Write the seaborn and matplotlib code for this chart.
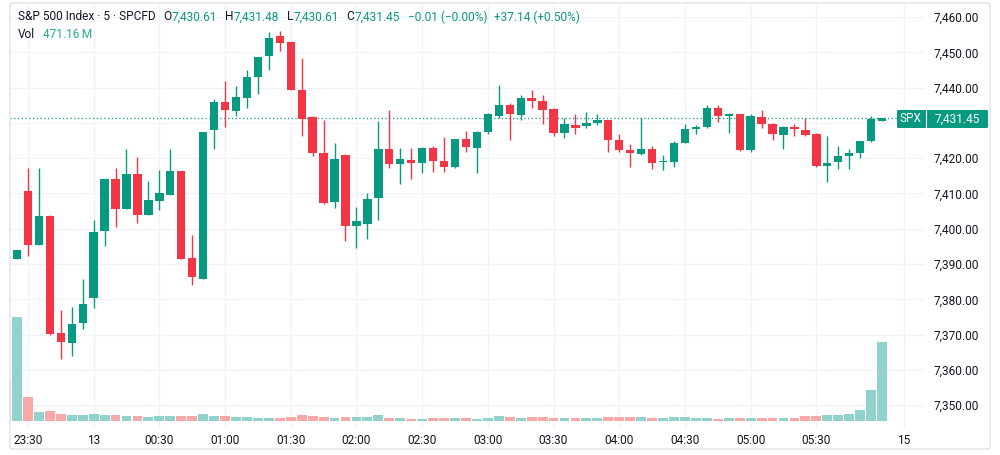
import numpy as np
import pandas as pd
import matplotlib
matplotlib.use("Agg")
import matplotlib.pyplot as plt
from matplotlib.patches import FancyBboxPatch
import seaborn as sns

# ---------------------------------------------------------------------------
# S&P 500 CFD, 5 minute candles starting 23:20 (first one is cut by the left edge)
opens = [7393.0, 7391.5, 7410.6, 7395.5, 7403.6, 7370.4, 7367.6, 7373.3, 7380.5, 7399.5,
         7414.1, 7405.6, 7415.6, 7403.9, 7408.0, 7409.7, 7416.3, 7391.7, 7385.8, 7428.1,
         7436.0, 7433.4, 7437.2, 7443.0, 7448.9, 7454.6, 7452.9, 7439.3, 7431.7, 7421.6,
         7407.5, 7420.8, 7400.7, 7401.4, 7408.7, 7422.7, 7418.4, 7419.6, 7418.7, 7422.9,
         7419.1, 7417.5, 7425.5, 7423.0, 7427.4, 7432.0, 7435.0, 7432.2, 7437.2, 7436.2,
         7433.9, 7427.1, 7429.5, 7429.0, 7430.0, 7430.7, 7425.2, 7422.4, 7421.3, 7422.5,
         7418.8, 7418.8, 7424.3, 7428.4, 7428.8, 7434.1, 7431.9, 7432.5, 7422.2, 7431.7,
         7429.8, 7426.5, 7428.8, 7428.1, 7427.0, 7417.7, 7418.8, 7420.5, 7421.5, 7424.8,
         7430.61]
highs = [7394.0, 7394.0, 7417.2, 7417.2, 7404.0, 7377.0, 7377.7, 7385.8, 7402.5, 7414.1,
         7417.2, 7422.5, 7420.3, 7413.5, 7416.8, 7422.5, 7416.3, 7398.1, 7427.4, 7436.9,
         7441.8, 7440.4, 7444.9, 7448.7, 7455.7, 7456.1, 7452.9, 7448.5, 7432.0, 7430.9,
         7424.3, 7421.2, 7406.1, 7410.2, 7430.5, 7433.8, 7422.9, 7423.0, 7423.2, 7423.4,
         7426.1, 7425.5, 7427.6, 7427.6, 7432.8, 7440.9, 7435.7, 7438.0, 7439.3, 7437.8,
         7434.3, 7431.5, 7432.4, 7433.1, 7432.4, 7430.9, 7426.8, 7424.1, 7431.4, 7423.6,
         7420.8, 7424.9, 7429.8, 7429.3, 7435.0, 7435.0, 7432.9, 7432.6, 7432.4, 7433.8,
         7430.0, 7429.0, 7429.8, 7431.4, 7427.1, 7426.2, 7423.5, 7422.7, 7425.0, 7431.9,
         7431.48]
lows = [7390.5, 7391.5, 7392.3, 7395.5, 7370.0, 7363.1, 7364.0, 7371.6, 7377.5, 7395.1,
        7400.4, 7405.6, 7401.7, 7403.9, 7405.2, 7409.7, 7391.4, 7384.1, 7385.8, 7422.7,
        7428.8, 7431.9, 7434.3, 7438.3, 7444.9, 7450.4, 7439.3, 7426.3, 7420.5, 7407.0,
        7405.8, 7396.5, 7394.5, 7397.1, 7402.6, 7417.2, 7412.8, 7414.1, 7415.9, 7416.0,
        7416.0, 7417.3, 7421.7, 7415.9, 7427.0, 7431.5, 7425.1, 7430.9, 7434.2, 7429.8,
        7426.3, 7425.8, 7427.0, 7428.7, 7429.3, 7421.7, 7421.7, 7417.5, 7421.0, 7417.0,
        7416.7, 7417.5, 7424.2, 7427.0, 7428.6, 7430.3, 7427.2, 7422.0, 7421.8, 7428.6,
        7425.3, 7422.7, 7426.2, 7426.3, 7417.6, 7413.2, 7417.0, 7416.9, 7420.1, 7424.7,
        7430.61]
closes = [7391.5, 7394.0, 7395.5, 7403.6, 7370.1, 7367.8, 7373.0, 7378.8, 7399.0, 7414.1,
          7405.6, 7415.6, 7403.9, 7408.2, 7410.2, 7416.3, 7391.5, 7386.2, 7427.4, 7436.0,
          7433.8, 7437.4, 7443.0, 7448.7, 7454.2, 7452.7, 7439.3, 7431.2, 7421.6, 7407.3,
          7419.9, 7400.9, 7402.2, 7408.5, 7422.5, 7418.4, 7419.9, 7418.6, 7423.0, 7419.1,
          7417.6, 7425.5, 7423.2, 7427.4, 7432.4, 7435.0, 7432.6, 7437.2, 7436.2, 7433.6,
          7427.1, 7429.8, 7428.7, 7430.0, 7430.7, 7425.2, 7422.4, 7421.6, 7422.7, 7418.6,
          7419.0, 7424.3, 7428.4, 7428.8, 7434.1, 7431.9, 7432.5, 7422.2, 7432.0, 7429.8,
          7427.0, 7428.8, 7428.3, 7426.5, 7417.7, 7418.6, 7420.7, 7421.5, 7424.8, 7431.2,
          7431.45]
# volume in millions
volumes = [238, 618, 146, 55, 61, 46, 40, 40, 42, 40,
           36, 30, 30, 26, 31, 31, 30, 30, 46, 31,
           31, 26, 26, 22, 22, 22, 26, 36, 30, 26,
           22, 26, 26, 26, 36, 22, 22, 16, 16, 20,
           20, 20, 20, 16, 20, 30, 24, 20, 24, 24,
           20, 20, 20, 20, 20, 24, 26, 26, 26, 20,
           20, 28, 26, 21, 20, 16, 20, 20, 22, 20,
           22, 22, 22, 30, 31, 36, 36, 46, 70, 188,
           471.16]

tick_times = ["23:30", "00:00", "00:30", "01:00", "01:30", "02:00", "02:30",
              "03:00", "03:30", "04:00", "04:30", "05:00", "05:30", "06:10"]
tick_text = ["23:30", "13", "00:30", "01:00", "01:30", "02:00", "02:30",
             "03:00", "03:30", "04:00", "04:30", "05:00", "05:30", "15"]
price_ticks = [7350, 7360, 7370, 7380, 7390, 7400, 7410, 7420, 7430, 7440, 7450, 7460]
last_price = 7431.45

UP, DOWN = "#089981", "#f23645"
VOL_UP, VOL_DOWN = "#92d2cc", "#f7a9a7"
TXT, GRID = "#131722", "#f0f3fa"

sns.set_theme(style="white")
plt.rcParams['font.family'] = ['Roboto', 'DejaVu Sans']

W_PX, H_PX = 1000, 455
def fx(x):
    return x / W_PX
def fy(y):
    return 1 - y / H_PX

n = len(closes)
pos = np.arange(n)
slots = [t.strftime("%H:%M") for t in pd.date_range("2000-01-01 23:20", periods=n + 3, freq="5min")]
tick_pos = [slots.index(t) for t in tick_times]

fig = plt.figure(figsize=(10, 4.55), dpi=100)
ax = fig.add_axes([fx(10), fy(428), fx(925) - fx(10), fy(2) - fy(428)])
ax2 = ax.twinx()

# volume pane (shares x with the price axis)
df = pd.DataFrame({"pos": pos, "vol": volumes,
                   "dir": ["up" if c >= o else "down" for o, c in zip(opens, closes)]})
sns.barplot(data=df, x="pos", y="vol", hue="dir", palette={"up": VOL_UP, "down": VOL_DOWN},
            native_scale=True, dodge=False, width=0.9, saturation=1, errorbar=None,
            legend=False, linewidth=0, ax=ax2)
ax2.set_ylim(-39.8, 2490)
ax2.set_yticks([])
ax2.set_xlabel("")
ax2.set_ylabel("")

# candles
o = np.array(opens); c = np.array(closes)
colors = [UP if cc >= oo else DOWN for oo, cc in zip(o, c)]
ax.vlines(pos, lows, highs, colors=colors, linewidth=1, zorder=3)
body = np.maximum(np.abs(c - o), 0.3)
ax.bar(pos, body, bottom=np.minimum(o, c), width=0.76, color=colors, linewidth=0, zorder=4)

ax.axhline(last_price, color=UP, linestyle=(0, (1, 2)), linewidth=0.9, zorder=2)

ax.set_xlim((10 - 6.05) / 10.95, (925 - 6.05) / 10.95)
ax.set_ylim(7343.5, 7464.3)
ax.set_yticks(price_ticks)
# the 7,430 label sits under the last-price badge
ax.set_yticklabels(["" if abs(p - last_price) < 5 else f"{p:,.2f}" for p in price_ticks])
ax.yaxis.tick_right()
ax.set_xticks(tick_pos)
ax.set_xticklabels(tick_text)
ax.tick_params(axis='y', length=0, pad=6, labelsize=8.6, labelcolor=TXT)
ax.tick_params(axis='x', length=0, pad=4, labelsize=8.6, labelcolor=TXT)
ax.grid(True, color=GRID, linewidth=1)
for a in (ax, ax2):
    for s in a.spines.values():
        s.set_visible(False)

# last price badge on the right
fig.patches.append(FancyBboxPatch((fx(897), fy(128)), fx(988) - fx(897), fy(110) - fy(128),
                                  boxstyle="round,pad=0,rounding_size=0.002",
                                  transform=fig.transFigure, fc=UP, ec="none", zorder=5))
fig.lines.append(plt.Line2D([fx(925.5), fx(925.5)], [fy(128), fy(110)], color="white",
                            linewidth=0.8, transform=fig.transFigure, zorder=6))
fig.text(fx(911), fy(119), "SPX", color="white", fontsize=8.6, ha="center", va="center", zorder=7)
fig.text(fx(957), fy(119), f"{last_price:,.2f}", color="white", fontsize=8.6,
         ha="center", va="center", zorder=7)

# widget frame
fig.patches.append(FancyBboxPatch((fx(10), fy(449)), fx(990) - fx(10), fy(3) - fy(449),
                                  boxstyle="round,pad=0,rounding_size=0.004",
                                  transform=fig.transFigure, fc="none", ec="#e0e3eb",
                                  linewidth=1, zorder=1))

# legend header: groups laid out one after another
renderer = fig.canvas.get_renderer()
def run(x, y, groups, size=8.6, gap=7):
    for parts in groups:
        for txt, col in parts:
            t = fig.text(fx(x), fy(y), txt, color=col, fontsize=size, ha="left", va="center")
            x = t.get_window_extent(renderer).x1 + 0.5
        x += gap

run(18, 17, [[("S&P 500 Index · 5 · SPCFD", TXT)],
             [("O", TXT), (f"{opens[-1]:,.2f}", UP)],
             [("H", TXT), (f"{highs[-1]:,.2f}", UP)],
             [("L", TXT), (f"{lows[-1]:,.2f}", UP)],
             [("C", TXT), (f"{closes[-1]:,.2f}", UP)],
             [("\u22120.01 (\u22120.00%)", UP)],
             [("+37.14 (+0.50%)", UP)]])
run(18, 34, [[("Vol", TXT)], [(f"{volumes[-1]:.2f}\u2009M", "#22ab94")]])

fig.savefig("out.png", dpi=100)
